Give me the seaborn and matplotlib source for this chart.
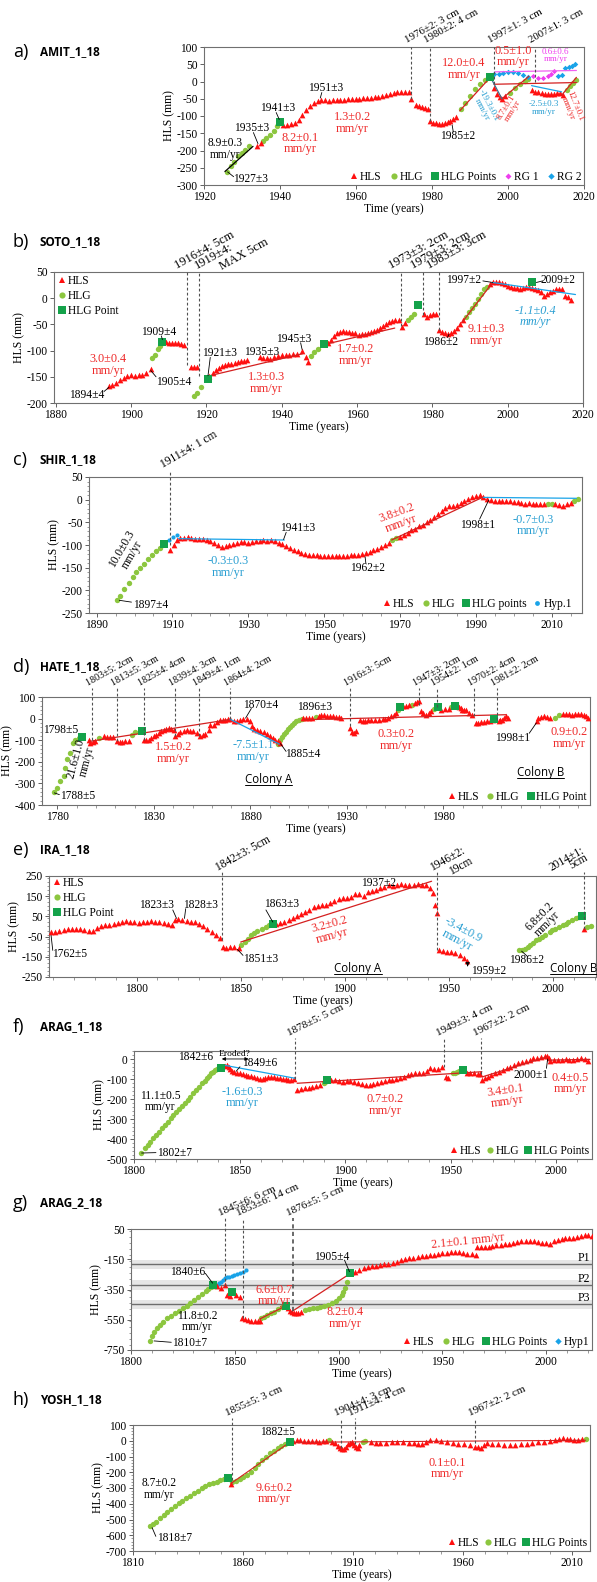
import numpy as np
import pandas as pd
import matplotlib
matplotlib.use("Agg")
import matplotlib.pyplot as plt
import matplotlib.transforms as mtrans
from matplotlib.lines import Line2D
from matplotlib.ticker import MultipleLocator
import seaborn as sns

sns.set_theme(style="ticks")
plt.rcParams["font.family"] = ["Liberation Serif", "DejaVu Serif"]
plt.rcParams["axes.unicode_minus"] = False

# ---------------------------------------------------------------- data
# a) AMIT_1_18
a_hls_x = [1933.9,1934.9,1940.9,1941.9,1942.9,1943.9,1944.9,1945.9,1946.9,1947.9,1948.9,1949.9,1950.9,1951.9,1952.9,1953.9,1954.9,1955.9,1956.9,1957.9,1958.9,1959.9,1960.9,1961.9,1962.9,1963.9,1964.9,1965.9,1966.9,1967.9,1968.9,1969.9,1970.9,1971.9,1972.9,1973.9,1974.4,1975.7,1976.6,1977.4,1978.2,1978.9,1979.6,1980.3,1981,1981.8,1982.6,1983.4,1984.1,1984.8,1985.5,1986.3,1996.4,1997,1997.9,1998.5,1999.2,2006.4,2007.2,2008,2008.9,2009.7,2010.5,2011.3,2012.1,2012.9,2013.6,2014.5]
a_hls_y = [-188,-178,-126,-125,-123,-120,-112,-96,-82,-70,-62,-56,-53,-54,-56,-55,-54,-55,-53,-52,-52,-51,-50,-49,-48,-47,-45,-44,-42,-40,-37,-34,-31,-30,-31,-30,-52,-68,-72,-75,-78,-80,-114,-119,-121,-122,-122,-121,-118,-114,-109,-102,-19,-35,-45,-51,-42,-24,-29,-31,-34,-36,-37,-37,-35,-34,-33,-40]
a_hlg_x = [1926,1927,1928,1929,1930,1930.9,1931.9,1935.4,1936.4,1937.4,1938.4,1939.2,1987.5,1988.8,1990.1,1991.4,1992.7,1994,2000.5,2001.8,2003.2,2004.5,2005.3,2015.4,2016.3,2017.2,2017.9]
a_hlg_y = [-261,-246,-232,-217,-207,-198,-188,-173,-163,-154,-144,-129,-80,-61,-41,-22,-7,4,-32,-20,-8,2,8,-24,-12,-3,5]
a_pts_x = [1939.9,1995.3]
a_pts_y = [-118,12]
a_rg1_x = [2006.6,2007.9,2009.2,2010.5,2011.4,2012.2]
a_rg1_y = [15,9,9,15,22,31]
a_rg2_x = [1996.2,1997.5,1998.8,2000.1,2001.4,2002.7,2004,2005.3,2013.2,2014.1,2015.1,2016,2016.9,2017.6]
a_rg2_y = [22,22,25,28,28,25,19,12,15,18,38,43,46,50]
a_fit_black = [(1925.5,-261,1932.9,-188)]
a_fit_red = [(1987.3,-85,1995.5,14),(1998.4,-50,2005.5,15),(2014.1,-40,2018,12),(1996.3,-8,2018,-3)]
a_fit_gray = [(1995.6,8,1998.4,-50)]
a_fit_blue = [(2006.2,-12,2014.1,-30)]
a_fit_mag = [(1996.6,28,2018,32)]
a_cut_x = [1974.4,1979.6,1996.3,2007.2]
a_cut_ybot = [-50,-114,-6,-2]
a_cut_lab = ["1976±2: 3 cm","1980±2: 4 cm","1997±1: 3 cm","2007±1: 3 cm"]

# b) SOTO_1_18
b_hls_x = [1894.1,1895,1896,1897,1898,1899,1900,1901,1902,1903,1904,1905.2,
           1909.3,1910.1,1910.9,1911.7,1912.5,1913.3,1914.1,1915.8,1916.6,1917.4,
           1920.8,1921.6,1922.4,1923.3,1924.1,1925,1925.8,1926.6,1927.5,1928.3,1929.2,1930,1930.8,
           1934.2,1935,1936,1937,1938,1939,1940,1941,1942,1943,1944,1945.3,1946.3,1947,
           1952.2,1953,1953.8,1954.6,1955.4,1956.3,1957.1,1957.9,1958.7,1959.5,1960.4,1961.2,1962,1962.8,1963.6,1964.5,1965.3,1966.1,1966.9,1967.7,1968.5,1969.4,1970.2,1971,
           1971.9,1972.7,1977.8,1978.6,1979.4,1980.2,1981,
           1981.8,1982.6,1983.4,1984.2,1985,1985.8,1986.6,1987.4,1988.2,
           1995.3,1996.1,1996.9,1997.7,1998.5,1999.3,2000.1,2000.9,2001.7,2002.5,2003.3,2004.1,2004.9,2005.7,2006.5,2007.3,2008.1,2008.9,2009.7,2010.5,2011.3,2012.1,2012.9,2013.7,2014.5,2015.3,2016.1,2016.9]
b_hls_y = [-168,-165,-161,-157,-152,-149,-147,-148,-146,-147,-143,-135,
           -84,-85,-85,-86,-86,-87,-89,-131,-131,-132,
           -149,-143,-137,-133,-130,-128,-126,-125,-124,-122,-120,-119,-117,
           -113,-114,-115,-116,-113,-110,-109,-108,-108,-107,-106,-100,-113,-121,
           -86,-80,-72,-66,-64,-63,-64,-65,-66,-67,-70,-69,-68,-66,-64,-62,-60,-57,-53,-49,-46,-43,-42,-41,
           -55,-47,-31,-36,-32,-30,-30,
           -61,-64,-67,-68,-67,-62,-56,-49,-42,
           28,31,30,31,29,27,24,22,20,19,18,19,21,22,20,18,15,12,4,8,11,14,17,18,17,5,2,-4]
b_hlg_x = [1905.6,1906.3,1907,1907.6,1916.8,1917.6,1918.5,1947.8,1948.6,1949.5,1973.5,1974.3,1975,1989,1989.8,1990.6,1991.4,1992.2,1993,1993.8,1994.6]
b_hlg_y = [-115,-108,-97,-92,-187,-181,-170,-110,-103,-96,-41,-35,-30,-35,-27,-18,-12,-2,8,17,22]
b_pts_x = [1908.3,1920.3,1951.3,1976.2,2006.4]
b_pts_y = [-83,-154,-87,-13,30]
b_fit_red = [(1920.8,-148,1945.5,-106),(1951.5,-88,1970,-57),(1988,-45,1996,30)]
b_fit_blue = [(1996,30,2018,7)]
b_cut_x = [1914.9,1918,1971.6,1977.5,1981.7]
b_cut_ybot = [-128,-148,-54,-32,-60]
b_cut_lab = ["1916±4: 5cm","1919±4:","1973±3: 2cm","1979±3: 2cm","1983±3: 3cm"]

# c) SHIR_1_18
c_hls_x = [1909.4,1910.3,1911.2,1912,1913,1914,1915,1916,1917,1918,1919,1920,1921,1922,1923,1924,1925,1926,1927,1928,1929,1930,1931,1932,1933,1934,1935,1936,1937,1938,1939,1940,1941,1942,1943,1944,1945,1946,1947,1948,1949,1950,1951,1952,1953,1954,1955,1956,1957,1958,1959,1960,1961,1962,1963,1964,1965,1966,1967,1970,1971,1972,1973,1974,1975,1976,1977,1978,1979,1980,1981,1982,1983,1984,1985,1986,1987,1988,1989,1990,1991,1992,1993,1994,1995,1996,1997,1998,1999,2000,2001,2002,2003,2004,2005,2006,2007,2008,2011,2012,2013,2014,2015]
c_hls_y = [-112,-100,-90,-84,-85,-83,-84,-86,-86,-87,-90,-92,-96,-101,-104,-103,-100,-97,-95,-94,-94,-95,-93,-91,-92,-88,-92,-90,-92,-95,-98,-102,-106,-110,-114,-117,-119,-121,-122,-123,-124,-124,-125,-125,-124,-124,-125,-124,-123,-122,-121,-120,-118,-115,-112,-108,-104,-100,-95,-82,-78,-73,-68,-64,-59,-55,-50,-44,-38,-32,-25,-18,-14,-13,-12,-8,-3,1,6,9,10,6,2,-1,-2,-3,-4,-3,-2,-5,-6,-8,-9,-8,-9,-10,-10,-9,-10,-12,-14,-10,-8]
c_hlg_x = [1895.5,1896.3,1897.3,1898.5,1899.6,1900.5,1901.5,1902.5,1903.5,1904.5,1905.6,1906.6,1968,1969,2009,2010,2016,2017]
c_hlg_y = [-221,-213,-198,-183,-170,-160,-150,-141,-131,-122,-114,-106,-90,-85,-9,-10,-3,2]
c_pts_x = [1907.8]
c_pts_y = [-98]
c_hyp_x = [1909.1,1910.1,1911.1]
c_hyp_y = [-89,-82,-78]
c_fit_red = [(1967.8,-89,1992,6)]
c_fit_blue = [(1911.6,-86,1939.5,-89),(1992,5,2016.5,3)]
c_cut_x = [1909.4]
c_cut_ybot = [-100]
c_cut_lab = ["1911±4: 1 cm"]

# d) HATE_1_18
d_hls_x = [1796.2,1797,1798.5,1799.7,1804,1805.7,1807.4,1809,1810.9,1812.2,1813.5,1815.2,1816.9,1824.7,1826,1827.3,1828.6,1829.8,1831.1,1832.4,1833.7,1835,1836.3,1837.6,1838.9,1840.2,1841.1,1842.4,1843.7,1845.4,1847.1,1848.8,1850.5,1852.3,1854,1855.3,1856.6,1858.3,1859.2,1860.9,1862.6,1864.4,1865.7,1867,1868.2,1869.5,1871.3,1873,1874.7,1876.4,1878.2,1879.9,1880.8,1882.1,1883.4,1885.1,1886.8,1888.5,1890.2,1891.5,1892.8,1894.1,1895.4,
           1907.5,1909,1910.5,1912,1915.3,1916.8,1918.3,1919.8,1921.2,1922.7,1924.2,1925.7,1927.2,1931.7,1932.7,1933.7,1934.7,1936.6,1938.1,1939.6,1941.1,1942.6,1944.6,1946.5,1948.5,1950,1951.4,1952.9,1954.4,1955.5,1959.3,1960.8,1962.2,1965.2,1966.2,1967.2,1968.2,1969.6,1971.1,1972.5,1973.5,1979,1981,1982.9,1987.9,1988.9,1989.9,1990.8,1991.8,1993.3,1994.8,1996.7,1998.2,1999.7,2001.2,2002.7,2004.2,2005.6,2008.6,2009.6,2010.5,2011.5,2012.5,2013.5,
           2028.3,2029.3,2030.8,2032.2,2033.7,2035.2,2042,2043.5,2045,2046.5,2048,2050,2051.5,2052.9,2054,2054.9]
d_hls_y = [-97,-112,-108,-105,-82,-84,-85,-85,-104,-108,-109,-106,-104,-97,-98,-97,-90,-82,-74,-67,-59,-52,-47,-44,-47,-52,-82,-72,-64,-58,-55,-57,-59,-67,-79,-75,-70,-52,-29,-29,-18,-6,-8,-6,-4,-3,-13,-9,-6,-4,-3,-13,-36,-46,-52,-58,-64,-73,-82,-90,-97,-105,-112,
           2,2,2,2,12,18,15,12,10,10,8,6,5,-44,-60,-67,-56,-5,-10,-13,-8,-5,-6,-5,-4,-2,2,10,18,28,57,60,64,72,76,80,33,25,18,28,33,41,43,44,54,48,41,40,38,28,18,-21,-20,-18,-15,-13,-9,-5,-13,-8,-5,2,10,2,
           -13,2,8,10,6,2,23,22,20,18,20,23,20,18,10,2]
d_hlg_x = [1778.1,1779.8,1781.5,1783.3,1784.1,1785,1786.7,1788.1,1789.3,1791,1801.4,1818.6,1820.4,1894.5,1895.5,1896.5,1897.5,1898.5,1899.5,1900.5,1901.5,1902.5,1903.5,1905,1906.5,1913.8,1956.4,1963.5,1975,1983.9,2038,2040]
d_hlg_y = [-342,-319,-288,-265,-227,-189,-158,-112,-97,-90,-90,-75,-64,-118,-100,-85,-72,-60,-50,-40,-30,-22,-12,-5,0,7,41,62,44,54,5,15]
d_pts_x = [1792.8,1823.8,1957.3,1977,1985.9,2006.3]
d_pts_y = [-85,-59,52,54,60,-2]
d_fit_red = [(1797,-105,1869.5,-4),(1908,-5,2012.5,18)]
d_fit_blue = [(1869.5,-3,1895,-118)]
d_cut_x = [1798.1,1810.9,1825,1841.1,1853.5,1869.5,1931.8,1967.3,1976.8,1995.9,2007.7]
d_cut_ybot = [-97,-104,-97,-82,-79,-3,-36,64,54,10,-5]
d_cut_lab = ["1803±5: 2cm","1813±5: 3cm","1825±4: 4cm","1839±4: 3cm","1849±4: 1cm","1864±4: 2cm","1916±3: 5cm","1947±3: 2cm","1954±2: 1cm","1970±2: 4cm","1981±2: 2cm"]

# e) IRA_1_18
e_hls_x = [1759,1761,1763,1765,1767,1769,1771,1773,1775,1777,1779,1781,1783,1785,1787,1789,1791,1793,1795,1797,1799,1801,1803,1805,1807,1809,1811,1813,1815,1817,1818.5,1820,1822,1824,1826,1828,1830,1832,1834,1836,1838,1840,1841.5,1843,1845,1847,1849,
           1867,1869,1871,1873,1875,1877,1879,1881,1883,1885,1887,1889,1891,1893,1895,1897,1899,1901,1903,1905,1907,1909,1911,1913,1915,1917,1919,1921,1923,1925,1927,1929,1931,1933,1935,1937,1939,1941,1942.5,1943.4,1944.2,
           1945.2,1947,1949,1951,1953,1955,1957,1958.5,2014.6]
e_hls_y = [-27,-25,-20,-15,-12,-11,-12,-10,-16,-21,-24,-5,2,5,8,12,18,23,25,24,20,19,22,24,26,24,22,18,13,7,32,36,30,27,24,20,12,2,-12,-25,-40,-58,-101,-104,-102,-100,-106,
           14,17,22,30,40,50,60,70,82,95,100,104,108,116,125,134,141,143,148,160,160,150,172,176,182,191,198,204,202,205,208,206,204,206,208,206,203,190,165,105,68,
           -118,-121,-124,-126,-130,-140,-158,-172,-14]
e_hlg_x = [1850.2,1852,1853.5,1855,1856.5,1858,1860,1862,1863.5,1983.6,1985,1986.3,1987.7,1989,1990.4,1991.8,1993,1994.5,1996,1998.2,1999.5,2000.9,2002.7,2004.6,2006,2007.3,2009,2011,2012.5,2016.4,2018.3]
e_hlg_y = [-92,-75,-60,-44,-33,-22,-12,-2,5,-118,-115,-110,-100,-93,-80,-68,-60,-52,-40,-27,-18,-11,-2,6,14,22,32,42,48,-2,2]
e_pts_x = [1865.4,2013.7]
e_pts_y = [12,52]
e_fit_red = [(1850,-77,1941.6,224)]
e_cut_x = [1841.1,1944.3,2014.6]
e_cut_ybot = [-68,-118,-10]
e_cut_lab = ["1842±3: 5cm","1946±2:","2014±1:"]

# f) ARAG_1_18
f_hlg_x = [1803.2,1805,1806.4,1807.8,1809.1,1810.5,1811.9,1813.2,1814.6,1815.9,1817.3,1818.6,1820,1821.3,1822.7,1824,1825.4,1826.7,1828,1829.4,1830.8,1832.1,1833.5,1834.8,1835.7,1836.6,1837.5,1838.4,1839.3,1840.3,1889.9,1890.6,1951.3,1952.2,1953.1,1954]
f_hlg_y = [-472,-446,-430,-413,-397,-380,-363,-346,-330,-313,-296,-279,-264,-249,-235,-221,-204,-187,-170,-154,-137,-120,-107,-95,-82,-70,-62,-54,-46,-37,-120,-112,-70,-66,-62,-58]
f_pts_x = [1841.2,1891.3,1955.8]
f_pts_y = [-45,-104,-54]
f_hls_x = [1843,1844,1844.8,1845.7,1846.6,1847.5,1849,1850.2,1851.5,1852.9,1854.2,1855.6,1857,1858.3,1859.7,1861,1862.3,1863.7,1865,1866.4,1867.8,1869.1,1870.5,1871.8,1873.2,1874.5,1876,
           1877.3,1879,1880.9,1882.7,1884.5,1886.3,1888.1,1893.5,1895.3,1897.1,1898.9,1900.7,1902.5,1904.3,1906.1,1907.9,1909.8,1911.6,1913.4,1915.2,1917,1918.8,1920.6,1922.4,1924.2,1926,1927.8,1929.6,1931.4,1933.2,1935,1936.8,1938.6,1940.4,1942.2,1944,1945.8,
           1947.7,1948.8,1957.6,1959.4,1961.2,1963,1963.9,
           1964.8,1966.2,1967.5,1969.3,1971.1,1972.9,1974.7,1976.5,1978.3,1980.1,1981.9,1983.7,1985.6,1987.4,1989.2,1991,1992.8,1994.6,1995.5,1996.4,1997.3,1999.1,2000.9,2002.7,2004.5,2006.3,2008.1,2009.9,2011.7,2013.5,2015.3]
f_hls_y = [-33,-30,-37,-50,-57,-62,-66,-70,-74,-79,-82,-84,-90,-95,-97,-100,-92,-87,-88,-90,-92,-95,-97,-100,-102,-104,-100,
           -154,-150,-145,-143,-140,-134,-129,-104,-106,-110,-112,-111,-110,-112,-118,-124,-127,-129,-125,-120,-114,-107,-105,-103,-100,-95,-86,-79,-72,-67,-66,-67,-56,-45,-48,-50,-37,
           -87,-95,-67,-68,-70,-72,-74,
           -104,-95,-87,-78,-70,-62,-54,-45,-37,-28,-20,-13,-7,-1,5,9,13,15,17,5,-7,-5,-3,-1,0,-2,-3,1,5,0,-7]
f_fit_red = [(1877.3,-120,1964.8,-62),(1965,-88,1995.5,12),(1996,-4,2016,0)]
f_fit_blue = [(1842,-28,1876.4,-95)]
f_cut_x = [1876.4,1946.8,1964.4]
f_cut_ybot = [-100,-40,-74]
f_cut_lab = ["1878±5: 5 cm","1949±3: 4 cm","1967±2: 2 cm"]

# g) ARAG_2_18
g_hls_x = [1841.5,1843.3,1845.2,1846.1,1847.9,1850.7,1852.5,1853.5,1855,1856.5,1858,1859.5,1861,1862,1875.6,1876.5,1877.4,1878.3,1879.3,1880.6,1882,
           1906.5,1908,1910,1912,1914,1916,1918,1920,1922,1924,1926,1928,1930,1932,1934,1936,1938,1940,1942,1944,1946,1948,1950,1952,1954,1956,1958,1960,1962,1964,1965.9,1966.8,1968.5,1970.5,1972.4,1974,1976,1978,1980,1982,1984,1986,1988,1990,1992,1994,1996,1998,2000,2001.8,2003.5,2005.5,2007.5,2009.2,2011,2012.9,2014.8,2016.6,2018.5,2020.3,2022]
g_hls_y = [-325,-338,-320,-386,-393,-386,-397,-541,-548,-552,-556,-558,-558,-555,-475,-490,-497,-503,-508,-505,-501,
           -236,-232,-222,-210,-200,-195,-192,-188,-184,-180,-172,-166,-158,-150,-144,-140,-135,-131,-127,-123,-120,-115,-111,-108,-104,-100,-104,-109,-113,-118,-122,-67,-68,-67,-66,-62,-58,-56,-50,-48,-44,-38,-32,-28,-28,-29,-33,-40,-45,-51,-30,-23,-16,-12,-9,-7,0,6,10,10,2]
g_hlg_x = [1809.2,1810.2,1811.1,1812.4,1813.8,1815.6,1817.5,1819.4,1821.2,1823,1824.9,1826.8,1828.6,1830.5,1832.3,1834.1,1835.9,1837.3,1838.7,
           1862.7,1864,1865.4,1867.2,1869.1,1871,1872.8,
           1883.9,1885.7,1887.6,1889.4,1891.2,1893,1894.9,1896.7,1898.6,1900,1901.4,1902.3,1903.2,1904.1]
g_hlg_y = [-690,-660,-629,-605,-585,-563,-541,-522,-503,-489,-475,-458,-441,-419,-397,-378,-360,-345,-331,
           -541,-530,-519,-508,-497,-481,-464,
           -486,-480,-475,-470,-464,-459,-453,-440,-426,-406,-386,-364,-342,-298]
g_pts_x = [1839.6,1848.8,1874.7,1905.6]
g_pts_y = [-320,-364,-457,-243]
g_hyp_x = [1841.5,1842.4,1843.3,1844.2,1845.2,1846.1,1847,1848.4,1849.8,1851.1,1852.5,1853.9,1855.3]
g_hyp_y = [-320,-309,-298,-287,-276,-270,-265,-259,-254,-248,-243,-232,-221]
g_fit_red = [(1862,-545,1875,-455),(1877,-500,1905.5,-245)]
g_band_y = [-184,-320,-448]
g_band_lab = ["P1","P2","P3"]
g_cut_x = [1845.5,1853.8,1877.8]
g_cut_ybot = [-330,-541,-490]
g_cut_lab = ["1845±6: 6 cm","1853±6: 14 cm","1876±5: 5 cm"]

# h) YOSH_1_18
h_hlg_x = [1817.8,1819.1,1820.4,1822.2,1823.9,1825.6,1827.3,1829,1830.8,1832.5,1834.2,1836,1837.7,1839.4,1841.2,1842.9,1844.6,1846.4,1848.1,1849.8,1851.6,
           1855,1856.7,1858.5,1860.2,1861.9,1863.7,1865.4,1867.1,1868.9,1870.6,1872.3,1874,1875.8,1877.5,1879.3,1899.2,1914.8,1915.6,2016.1]
h_hlg_y = [-539,-527,-514,-492,-471,-452,-433,-415,-397,-381,-366,-350,-334,-318,-302,-289,-277,-268,-260,-251,-243,
           -264,-254,-243,-230,-217,-197,-175,-148,-122,-100,-80,-62,-48,-35,-23,5,-6,-2,11]
h_pts_x = [1853.3,1881.3]
h_pts_y = [-234,-10]
h_hls_x = [1854.7,1883,1884.5,1886.2,1887.9,1889.7,1891.4,1893.1,1894.8,1896.5,1898,1900.5,1901.8,1903.1,1904.4,1905.3,1906.1,1907,1907.8,1908.7,1909.6,1910.4,1911.3,1912.2,1913,1918.2,1920.4,1922.6,1925.1,1927.7,1930.3,1932.9,1935.5,1938.1,1939.9,1941.6,1943.3,1945.1,1947.7,1950.3,1952.9,1955.5,1958,1960.6,1963.2,1965.8,1967.1,1968.4,1969.7,1971,1973.6,1976.2,1978.8,1981.4,1984,1986.6,1989.2,1991.8,1994.4,1997,1999.6,2002.2,2004,2005.7,2007.4,2009.1,2010.8,2012.6,2014.3]
h_hls_y = [-275,0,5,2,-2,-1,-2,-4,-6,-3,0,-6,-16,-32,-48,-52,-52,-38,-23,-15,-10,-25,-38,-44,-30,-10,-13,-16,-12,-10,-9,-10,-13,-16,-20,-23,-8,5,2,-2,-8,-16,-20,-23,-30,-38,-42,-44,-30,-16,-20,-23,-25,-27,-25,-23,-20,-16,-11,-6,0,5,10,15,12,9,7,5,8]
h_fit_red = [(1854.7,-270,1881.3,-10),(1882,-10,2016,3)]
h_cut_x = [1855,1904.7,1911,1965.8]
h_cut_ybot = [-250,-48,-23,-16]
h_cut_lab = ["1855±5: 3 cm","1904±4: 3 cm","1911±4: 4 cm","1967±2: 2 cm"]

# ---------------------------------------------------------------- styles
RED = "#FF1010"
FITRED = "#D42020"
TRED = "#EE2A2A"
TBLUE = "#2A9FD2"
LG = "#8CC63F"
DG = "#14A24A"
BLUE = "#19A3E8"
MAG = "#EE3DEE"
STY = {
    "hls": dict(m="^", c=RED, s=17),
    "hlg": dict(m="o", c=LG, s=15),
    "pts": dict(m="s", c=DG, s=30),
    "hyp": dict(m="o", c=BLUE, s=9),
    "rg1": dict(m="D", c=MAG, s=7),
    "rg2": dict(m="D", c=BLUE, s=8),
}

W, H = 597, 1582
fig = plt.figure(figsize=(W / 100, H / 100), dpi=100)
underlines = []


def make_ax(box, xlim, ylim, xt, yt, xmin=None, ymin=None):
    l, r, t, b = box
    ax = fig.add_axes([l / W, 1 - b / H, (r - l) / W, (b - t) / H])
    ax.set_xlim(*xlim)
    ax.set_ylim(*ylim)
    ax.set_xticks(xt)
    ax.set_yticks(yt)
    if xmin:
        ax.xaxis.set_minor_locator(MultipleLocator(xmin))
    if ymin:
        ax.yaxis.set_minor_locator(MultipleLocator(ymin))
    for s in ax.spines.values():
        s.set_color("#707070")
        s.set_linewidth(0.8)
    ax.tick_params(which="major", length=3, width=0.7, direction="out", labelsize=8.3,
                   pad=1.5, color="#606060", labelcolor="black")
    ax.tick_params(which="minor", length=1.8, width=0.5, direction="out", color="#707070")
    ax.set_ylabel("HLS (mm)", fontsize=8.5, labelpad=1, color="black")
    ax.set_xlabel("Time (years)", fontsize=8.5, labelpad=0, color="black")
    return ax


def pts(ax, x, y, kind, z=3):
    st = STY[kind]
    sns.scatterplot(x=x, y=y, ax=ax, marker=st["m"], color=st["c"], s=st["s"],
                    linewidth=0, legend=False, zorder=z)


def fits(ax, segs, color, lw=0.9, z=4):
    for x0, y0, x1, y1 in segs:
        ax.plot([x0, x1], [y0, y1], color=color, lw=lw, zorder=z)


def toplab(ax, x, lab, ext, dx, dy, fs, rot):
    tr = mtrans.blended_transform_factory(ax.transData, ax.transAxes)
    ax.annotate(lab, xy=(x, 1 + ext), xycoords=tr, xytext=(dx, dy),
                textcoords="offset pixels", rotation=rot, rotation_mode="anchor",
                ha="left", va="baseline", fontsize=fs, color="black")


def cuts(ax, xs, ybots, labels, ext, dxs, fs=8.0, dy=2, lw=0.8, rot=29):
    y0, y1 = ax.get_ylim()
    tr = mtrans.blended_transform_factory(ax.transData, ax.transAxes)
    for x, yb, lab, dx in zip(xs, ybots, labels, dxs):
        fb = (yb - y0) / (y1 - y0)
        ax.plot([x, x], [fb, 1 + ext], transform=tr, ls=(0, (2.5, 2)), color="#505050",
                lw=lw, clip_on=False, zorder=5)
        toplab(ax, x, lab, ext, dx, dy, fs, rot)


def txt(ax, x, y, s, color="black", fs=8.3, ha="center", va="center", rot=0, **kw):
    ax.text(x, y, s, color=color, fontsize=fs, ha=ha, va=va, rotation=rot,
            linespacing=0.95, zorder=6, **kw)


def lead(ax, x0, y0, x1, y1):
    ax.plot([x0, x1], [y0, y1], color="black", lw=0.6, zorder=6)


def legend(ax, kinds, labels, loc, ncol, bbox=None, fs=8.3, colsp=0.5):
    hs = [Line2D([], [], ls="", marker=STY[k]["m"], color=STY[k]["c"],
                 markersize=np.sqrt(STY[k]["s"]) * 1.15, mew=0) for k in kinds]
    kw = dict(loc=loc, ncol=ncol, frameon=False, fontsize=fs, handletextpad=0.05,
              columnspacing=colsp, borderaxespad=0.15, handlelength=0.9, labelspacing=0.25,
              borderpad=0.1)
    if bbox is not None:
        kw["bbox_to_anchor"] = bbox
    lg = ax.legend(hs, labels, **kw)
    for t in lg.get_texts():
        t.set_color("black")


def uline(ax, x, y, s, fs=8.3):
    t = ax.text(x, y, s, fontsize=fs, ha="center", va="center", family="Open Sans",
                zorder=6, color="black")
    underlines.append(t)


def title(y, letter, name):
    fig.text(13 / W, 1 - y / H, letter, fontsize=13, family="Open Sans", va="center", color="black")
    fig.text(40 / W, 1 - y / H, name, fontsize=8.5, family="Open Sans", weight="bold",
             va="center", color="black")


# ---------------------------------------------------------------- a
title(52, "a)", "AMIT_1_18")
ax = make_ax((204, 584, 47, 185), (1920, 2020), (-300, 100), range(1920, 2021, 20), range(-300, 101, 50))
fits(ax, a_fit_black, "black")
fits(ax, a_fit_red, FITRED)
fits(ax, a_fit_gray, "#3d6e8f")
fits(ax, a_fit_blue, BLUE)
fits(ax, a_fit_mag, "#F060F0")
pts(ax, a_hlg_x, a_hlg_y, "hlg")
pts(ax, a_hls_x, a_hls_y, "hls")
pts(ax, a_rg1_x, a_rg1_y, "rg1")
pts(ax, a_rg2_x, a_rg2_y, "rg2")
pts(ax, a_pts_x, a_pts_y, "pts", z=5)
cuts(ax, a_cut_x, a_cut_ybot, a_cut_lab, 0.0, [-4, -4, -4, -4], fs=7.8, dy=4)
txt(ax, 1925.5, -195, "8.9±0.3\nmm/yr")
txt(ax, 1927.6, -282, "1927±3", ha="left")
lead(ax, 1926.2, -262, 1927.8, -276)
txt(ax, 1928.0, -134, "1935±3", ha="left")
lead(ax, 1933.0, -148, 1934.2, -180)
txt(ax, 1934.8, -78, "1941±3", ha="left")
lead(ax, 1939.0, -90, 1939.8, -110)
txt(ax, 1945.4, -180, "8.2±0.1\nmm/yr", color=TRED, fs=8.8)
txt(ax, 1952.0, -20, "1951±3")
lead(ax, 1951.0, -32, 1950.6, -48)
txt(ax, 1959.0, -120, "1.3±0.2\nmm/yr", color=TRED, fs=8.8)
txt(ax, 1988.4, 37, "12.0±0.4\nmm/yr", color=TRED, fs=8.8)
txt(ax, 1986.7, -158, "1985±2")
lead(ax, 1985.3, -126, 1985.6, -146)
txt(ax, 2001.3, 72, "0.5±1.0\nmm/yr", color=TRED, fs=8.8)
txt(ax, 2012.5, 75, "0.6±0.6\nmm/yr", color=MAG, fs=6.5)
txt(ax, 1994.0, -75, "-19.3±0.1\nmm/yr", color=TBLUE, fs=6.5, rot=-62)
txt(ax, 2000.3, -80, "8.7±0.1\nmm/yr", color=TRED, fs=6.5, rot=58)
txt(ax, 2009.5, -77, "-2.5±0.3\nmm/yr", color=TBLUE, fs=6.5)
txt(ax, 2016.6, -75, "12.7±0.1\nmm/yr", color=TRED, fs=6.5, rot=-68)
legend(ax, ["hls", "hlg", "pts", "rg1", "rg2"], ["HLS", "HLG", "HLG Points", "RG 1", "RG 2"],
       "lower right", 5, bbox=(1.0, -0.01), colsp=0.6)

# ---------------------------------------------------------------- b
title(242, "b)", "SOTO_1_18")
ax = make_ax((54, 583, 272, 403), (1879.5, 2019.5), (-200, 50), range(1880, 2021, 20), range(-200, 51, 50))
fits(ax, b_fit_red, FITRED)
fits(ax, b_fit_blue, BLUE)
pts(ax, b_hlg_x, b_hlg_y, "hlg")
pts(ax, b_hls_x, b_hls_y, "hls")
pts(ax, b_pts_x, b_pts_y, "pts", z=5)
cuts(ax, b_cut_x, b_cut_ybot, b_cut_lab, 0.0, [-10, -2, -10, -10, -10], fs=9, dy=3)
toplab(ax, 1918, "MAX 5cm", 0.0, 23, 2, 9, 29)
txt(ax, 1893.8, -127, "3.0±0.4\nmm/yr", color=TRED, fs=8.8)
txt(ax, 1888.3, -184, "1894±4")
lead(ax, 1892.8, -178, 1894.1, -170)
txt(ax, 1911.2, -159, "1905±4")
lead(ax, 1906.6, -150, 1905.2, -138)
txt(ax, 1907.4, -64, "1909±4")
lead(ax, 1908.0, -72, 1908.3, -79)
txt(ax, 1923.5, -105, "1921±3")
lead(ax, 1921.0, -113, 1920.4, -148)
txt(ax, 1934.6, -102, "1935±3")
txt(ax, 1943.1, -77, "1945±3")
lead(ax, 1945.0, -85, 1945.4, -98)
txt(ax, 1935.9, -162, "1.3±0.3\nmm/yr", color=TRED, fs=8.8)
txt(ax, 1959.6, -108, "1.7±0.2\nmm/yr", color=TRED, fs=8.8)
txt(ax, 1982.1, -83, "1986±2")
lead(ax, 1984.0, -75, 1984.4, -69)
txt(ax, 1994.3, -70, "9.1±0.3\nmm/yr", color=TRED, fs=8.8)
txt(ax, 1988.2, 35, "1997±2")
lead(ax, 1993.4, 33, 1996.0, 30)
txt(ax, 2013.4, 35, "2009±2")
lead(ax, 2009.3, 33, 2007.6, 30)
txt(ax, 2007.4, -35, "-1.1±0.4\nmm/yr", color=TBLUE, fs=8.8, style="italic")
legend(ax, ["hls", "hlg", "pts"], ["HLS", "HLG", "HLG Point"], "upper left", 1)

# ---------------------------------------------------------------- c
title(460, "c)", "SHIR_1_18")
ax = make_ax((89, 582, 477, 613), (1888, 2018), (-250, 50), range(1890, 2011, 20), range(-250, 51, 50), 5, 10)
fits(ax, c_fit_red, FITRED)
fits(ax, c_fit_blue, BLUE)
pts(ax, c_hlg_x, c_hlg_y, "hlg")
pts(ax, c_hls_x, c_hls_y, "hls")
pts(ax, c_hyp_x, c_hyp_y, "hyp")
pts(ax, c_pts_x, c_pts_y, "pts", z=5)
cuts(ax, c_cut_x, c_cut_ybot, c_cut_lab, 7 / 136, [-7], fs=8.3, rot=30)
txt(ax, 1898.0, -115, "10.0±0.3\nmm/yr", rot=60)
txt(ax, 1899.5, -232, "1897±4", ha="left")
lead(ax, 1896.0, -222, 1899.2, -226)
txt(ax, 1924.6, -148, "-0.3±0.3\nmm/yr", color=TBLUE, fs=8.8)
txt(ax, 1942.9, -63, "1941±3")
lead(ax, 1940.0, -72, 1939.3, -88)
txt(ax, 1961.5, -151, "1962±2")
lead(ax, 1961.0, -140, 1960.8, -126)
txt(ax, 1969.8, -41, "3.8±0.2\nmm/yr", color=TRED, fs=8.8, rot=20)
txt(ax, 1990.4, -55, "1998±1")
lead(ax, 1991.0, -43, 1993.4, -1)
txt(ax, 2005.1, -57, "-0.7±0.3\nmm/yr", color=TBLUE, fs=8.8)
legend(ax, ["hls", "hlg", "pts", "hyp"], ["HLS", "HLG", "HLG points", "Hyp.1"],
       "lower right", 4, bbox=(0.985, 0.0))

# ---------------------------------------------------------------- d
title(667, "d)", "HATE_1_18")
ax = make_ax((42, 590, 697, 805), (1772, 2056), (-400, 100), range(1780, 1981, 50), range(-400, 101, 100), 10, 20)
fits(ax, d_fit_red, FITRED)
fits(ax, d_fit_blue, BLUE)
pts(ax, d_hlg_x, d_hlg_y, "hlg")
pts(ax, d_hls_x, d_hls_y, "hls")
pts(ax, d_pts_x, d_pts_y, "pts", z=5)
cuts(ax, d_cut_x, d_cut_ybot, d_cut_lab, 9 / 108, [-4] * 11, fs=7.2)
txt(ax, 1781.6, -51, "1798±5")
txt(ax, 1792.6, -192, "21.6±1.0\nmm/yr", rot=75)
txt(ax, 1781.5, -357, "1788±5", ha="left")
lead(ax, 1778.4, -344, 1781.0, -352)
txt(ax, 1840.0, -160, "1.5±0.2\nmm/yr", color=TRED, fs=8.8)
txt(ax, 1885.4, 63, "1870±4")
lead(ax, 1880.5, 47, 1877.5, 2)
txt(ax, 1881.5, -150, "-7.5±1.1\nmm/yr", color=TBLUE, fs=8.8)
txt(ax, 1898.0, -166, "1885±4", ha="left")
lead(ax, 1895.6, -116, 1898.5, -152)
uline(ax, 1889.5, -281, "Colony A")
txt(ax, 1913.5, 53, "1896±3")
txt(ax, 1955.5, -99, "0.3±0.2\nmm/yr", color=TRED, fs=8.8)
txt(ax, 2016.0, -90, "1998±1")
lead(ax, 2024.5, -68, 2028.2, -20)
txt(ax, 2045.2, -90, "0.9±0.2\nmm/yr", color=TRED, fs=8.8)
uline(ax, 2030.3, -251, "Colony B")
legend(ax, ["hls", "hlg", "pts"], ["HLS", "HLG", "HLG Point"], "lower right", 3, bbox=(1.0, -0.01))

# ---------------------------------------------------------------- e
title(850, "e)", "IRA_1_18")
ax = make_ax((49, 596, 876, 977), (1758, 2020.5), (-250, 250), range(1800, 2001, 50), range(-250, 251, 100), 10, 20)
fits(ax, e_fit_red, FITRED)
pts(ax, e_hlg_x, e_hlg_y, "hlg")
pts(ax, e_hls_x, e_hls_y, "hls")
pts(ax, e_pts_x, e_pts_y, "pts", z=5)
cuts(ax, e_cut_x, e_cut_ybot, e_cut_lab, 4 / 101, [-4, -5, -32], fs=8.3, dy=1)
toplab(ax, 1944.3, "19cm", 4 / 101, 14, -3, 8.3, 29)
toplab(ax, 2014.6, "5cm", 4 / 101, -12, 3, 8.3, 29)
txt(ax, 1759.6, -134, "1762±5", ha="left")
lead(ax, 1759.0, -44, 1759.8, -118)
txt(ax, 1809.5, 105, "1823±3")
lead(ax, 1817.4, 82, 1819.2, 40)
txt(ax, 1830.5, 105, "1828±3")
lead(ax, 1823.6, 88, 1823.0, 40)
txt(ax, 1869.4, 113, "1863±3")
lead(ax, 1862.1, 82, 1865.4, 22)
txt(ax, 1859.7, -159, "1851±3")
lead(ax, 1851.1, -143, 1848.4, -113)
txt(ax, 1893.2, -19, "3.2±0.2\nmm/yr", color=TRED, fs=8.8, rot=15)
txt(ax, 1916.0, 214, "1937±2")
txt(ax, 1955.3, -44, "-3.4±0.9\nmm/yr", color=TBLUE, fs=8.8, rot=-28)
txt(ax, 1960.3, -222, "1959±2", ha="left")
ax.annotate("", xy=(1958.9, -212), xytext=(1958.9, -178),
            arrowprops=dict(arrowstyle="-|>", color="black", lw=0.6, mutation_scale=6))
uline(ax, 1906.3, -209, "Colony A")
txt(ax, 1995.4, 31, "6.8±0.2\nmm/yr", rot=45)
txt(ax, 1987.2, -167, "1986±2")
lead(ax, 1987.8, -150, 1984.8, -122)
uline(ax, 2009.6, -209, "Colony B")
legend(ax, ["hls", "hlg", "pts"], ["HLS", "HLG", "HLG Point"], "upper left", 1, bbox=(0.0, 1.02))

# ---------------------------------------------------------------- f
title(1027, "f)", "ARAG_1_18")
ax = make_ax((134, 592, 1051, 1159), (1800, 2017), (-500, 42), range(1800, 2001, 50), range(-500, 1, 100), 10, 20)
fits(ax, f_fit_red, FITRED)
fits(ax, f_fit_blue, BLUE)
pts(ax, f_hlg_x, f_hlg_y, "hlg")
pts(ax, f_hls_x, f_hls_y, "hls")
pts(ax, f_pts_x, f_pts_y, "pts", z=5)
cuts(ax, f_cut_x, f_cut_ybot, f_cut_lab, 13 / 108, [-6, -6, -6], fs=8.0, rot=26)
txt(ax, 1812.6, -212, "11.1±0.5\nmm/yr")
txt(ax, 1810.8, -468, "1802±7", ha="left")
lead(ax, 1803.6, -470, 1810.4, -468)
txt(ax, 1829.4, 13, "1842±6")
txt(ax, 1847.5, 27, "Eroded?", fs=6.8)
ax.annotate("", xy=(1840.3, 2), xytext=(1855.6, 2),
            arrowprops=dict(arrowstyle="<|-|>", color="black", lw=0.6, mutation_scale=5))
txt(ax, 1859.6, -20, "1849±6")
lead(ax, 1850.2, -37, 1848.4, -60)
txt(ax, 1851.4, -192, "-1.6±0.3\nmm/yr", color=TBLUE, fs=8.8)
txt(ax, 1918.8, -229, "0.7±0.2\nmm/yr", color=TRED, fs=8.8)
txt(ax, 1976.5, -184, "3.4±0.1\nmm/yr", color=TRED, fs=8.8, rot=8)
txt(ax, 1988.3, -79, "2000±1")
lead(ax, 1995.4, -45, 1996.0, 2)
txt(ax, 2006.7, -120, "0.4±0.5\nmm/yr", color=TRED, fs=8.8)
legend(ax, ["hls", "hlg", "pts"], ["HLS", "HLG", "HLG Points"], "lower right", 3, bbox=(1.0, -0.01), colsp=0.3)

# ---------------------------------------------------------------- g
title(1203, "g)", "ARAG_2_18")
ax = make_ax((131, 592, 1229, 1350), (1800, 2022), (-750, 50), range(1800, 2001, 50), range(-750, 51, 200), 10, 40)
trg = mtrans.blended_transform_factory(ax.transAxes, ax.transData)
for yb, lb in zip(g_band_y, g_band_lab):
    ax.axhspan(yb - 30, yb + 30, color="#E6E6E6", lw=0, zorder=0)
    ax.axhline(yb, color="#6E6E6E", lw=1.0, zorder=1)
    ax.text(0.995, yb + 42, lb, transform=trg, ha="right", va="center", fontsize=8.5,
            zorder=6, color="black")
fits(ax, g_fit_red, FITRED)
pts(ax, g_hlg_x, g_hlg_y, "hlg")
pts(ax, g_hyp_x, g_hyp_y, "hyp")
pts(ax, g_hls_x, g_hls_y, "hls")
pts(ax, g_pts_x, g_pts_y, "pts", z=5)
cuts(ax, g_cut_x[:2], g_cut_ybot[:2], g_cut_lab[:2], 11 / 121, [-5, -5], fs=8.0, rot=24)
cuts(ax, g_cut_x[2:], g_cut_ybot[2:], g_cut_lab[2:], 11 / 121, [-5], fs=8.0, rot=24, lw=1.2)
txt(ax, 1827.1, -232, "1840±6")
lead(ax, 1835.8, -243, 1839.3, -308)
txt(ax, 1831.7, -563, "11.8±0.2\nmm/yr")
txt(ax, 1819.8, -702, "1810±7", ha="left")
lead(ax, 1811.1, -690, 1819.4, -699)
txt(ax, 1869.1, -391, "6.6±0.7\nmm/yr", color=TRED, fs=8.8)
txt(ax, 1896.8, -133, "1905±4")
lead(ax, 1902.8, -155, 1905.2, -232)
txt(ax, 1903.2, -538, "8.2±0.4\nmm/yr", color=TRED, fs=8.8)
txt(ax, 1962.2, -32, "2.1±0.1 mm/yr", color=TRED, fs=8.8, rot=6)
legend(ax, ["hls", "hlg", "pts", "rg2"], ["HLS", "HLG", "HLG Points", "Hyp1"],
       "lower right", 4, bbox=(1.0, -0.01), colsp=0.5)

# ---------------------------------------------------------------- h
title(1400, "h)", "YOSH_1_18")
ax = make_ax((133, 590, 1425, 1551), (1810, 2018), (-700, 100), range(1810, 2011, 50), range(-700, 101, 100), 10, 20)
fits(ax, h_fit_red, FITRED, lw=0.8)
pts(ax, h_hlg_x, h_hlg_y, "hlg")
pts(ax, h_hls_x, h_hls_y, "hls")
pts(ax, h_pts_x, h_pts_y, "pts", z=5)
cuts(ax, h_cut_x, h_cut_ybot, h_cut_lab, 7 / 126, [-5] * 4, fs=8.0, rot=24)
txt(ax, 1822.1, -306, "8.7±0.2\nmm/yr")
txt(ax, 1820.8, -619, "1818±7", ha="left")
lead(ax, 1818.7, -552, 1820.4, -607)
txt(ax, 1874.1, -334, "9.6±0.2\nmm/yr", color=TRED, fs=8.8)
txt(ax, 1875.8, 58, "1882±5")
txt(ax, 1952.9, -175, "0.1±0.1\nmm/yr", color=TRED, fs=8.8)
legend(ax, ["hls", "hlg", "pts"], ["HLS", "HLG", "HLG Points"], "lower right", 3, bbox=(1.0, -0.01), colsp=0.3)

# underlines for colony labels
fig.canvas.draw()
r = fig.canvas.get_renderer()
for t in underlines:
    bb = t.get_window_extent(renderer=r)
    fig.add_artist(Line2D([bb.x0 / W, bb.x1 / W], [(bb.y0 + 1) / H] * 2,
                          transform=fig.transFigure, color="black", lw=0.7))

fig.savefig("out.png", dpi=100)
